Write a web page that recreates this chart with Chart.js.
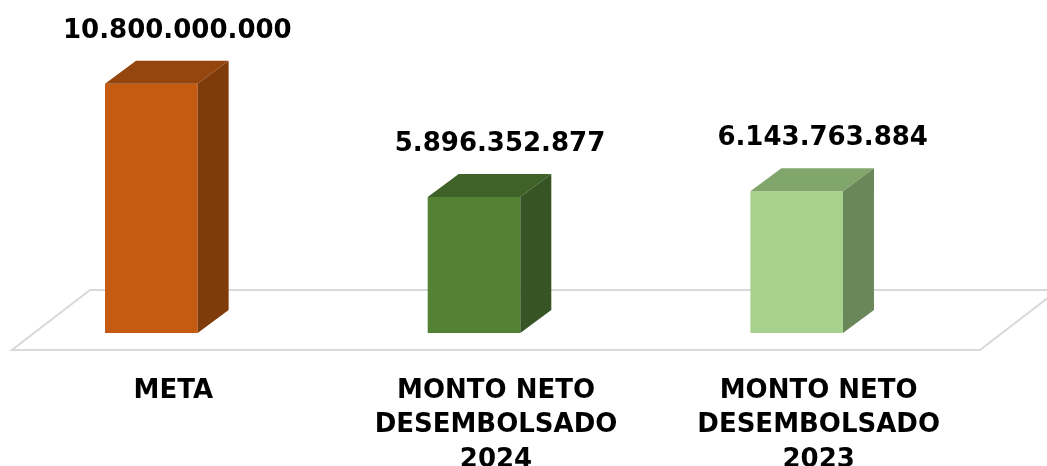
<!DOCTYPE html>
<html>
<head>
<meta charset="utf-8">
<script src="https://cdn.jsdelivr.net/npm/chart.js@4.4.1/dist/chart.umd.min.js"></script>
<style>
  html, body { margin: 0; padding: 0; background: #fff; overflow: hidden; }
  #wrap { position: absolute; left: 0; top: 0; width: 1047px; height: 518px; }
</style>
</head>
<body>
<div id="wrap"><canvas id="chart"></canvas></div>
<script>
// --- data ---
const categories = [
    'META',
    ['MONTO NETO', 'DESEMBOLSADO', '2024'],
    ['MONTO NETO', 'DESEMBOLSADO', '2023']
];
const values = [10800000000, 5896352877, 6143763884];

// front / top / side colours for each bar
const frontColors = ['#C55A11', '#548235', '#A9D18E'];
const topColors = ['#95450E', '#3F6229', '#80A66B'];
const sideColors = ['#803B0B', '#375424', '#6A8759'];

const FONT = "'DejaVu Sans', Verdana, sans-serif";
const DEPTH_X = 31, DEPTH_Y = -23;   // bar depth
const SHIFT_X = -22;                 // front faces sit a bit left of the category

function fmt(v) {
    return String(v).replace(/\B(?=(\d{3})+(?!\d))/g, '.');
}

// 3D bars + floor
const bars3d = {
    id: 'bars3d',
    beforeDatasetsDraw(chart) {
        const ctx = chart.ctx;
        const a = chart.chartArea;
        // floor
        const fy = a.bottom + 17, by = a.bottom - 43, dx = 78;
        ctx.save();
        ctx.strokeStyle = '#d9d9d9';
        ctx.lineWidth = 2;
        ctx.beginPath();
        ctx.moveTo(a.left, fy);
        ctx.lineTo(a.right, fy);
        ctx.lineTo(a.right + dx, by);
        ctx.lineTo(a.left + dx, by);
        ctx.closePath();
        ctx.stroke();
        ctx.restore();

        ctx.save();
        ctx.translate(SHIFT_X, 0);
    },
    afterDatasetsDraw(chart) {
        const ctx = chart.ctx;
        const meta = chart.getDatasetMeta(0);
        meta.data.forEach(function (bar, i) {
            const l = bar.x - bar.width / 2, r = bar.x + bar.width / 2;
            const t = bar.y, b = bar.base;
            // top face
            ctx.fillStyle = topColors[i];
            ctx.beginPath();
            ctx.moveTo(l, t);
            ctx.lineTo(l + DEPTH_X, t + DEPTH_Y);
            ctx.lineTo(r + DEPTH_X, t + DEPTH_Y);
            ctx.lineTo(r, t);
            ctx.closePath();
            ctx.fill();
            // side face
            ctx.fillStyle = sideColors[i];
            ctx.beginPath();
            ctx.moveTo(r, t);
            ctx.lineTo(r + DEPTH_X, t + DEPTH_Y);
            ctx.lineTo(r + DEPTH_X, b + DEPTH_Y);
            ctx.lineTo(r, b);
            ctx.closePath();
            ctx.fill();
        });
        ctx.restore();

        // value labels
        ctx.save();
        ctx.fillStyle = '#000';
        ctx.font = 'bold 26px ' + FONT;
        ctx.textAlign = 'center';
        ctx.textBaseline = 'alphabetic';
        meta.data.forEach(function (bar, i) {
            ctx.fillText(fmt(values[i]), bar.x + SHIFT_X + 26, bar.y - 46);
        });
        ctx.restore();
    }
};

new Chart(document.getElementById('chart'), {
    type: 'bar',
    data: {
        labels: categories,
        datasets: [{
            data: values,
            backgroundColor: frontColors,
            borderWidth: 0,
            barPercentage: 0.287,
            categoryPercentage: 1
        }]
    },
    options: {
        responsive: true,
        maintainAspectRatio: false,
        animation: false,
        layout: { padding: { top: 56, left: 12, right: 67, bottom: 0 } },
        plugins: {
            legend: { display: false },
            tooltip: { enabled: false }
        },
        scales: {
            x: {
                grid: { display: false, drawTicks: false },
                border: { display: false },
                ticks: {
                    color: '#000',
                    padding: 41,
                    maxRotation: 0,
                    autoSkip: false,
                    font: { family: FONT, size: 26, weight: 'bold', lineHeight: 1.32 }
                }
            },
            y: {
                display: false,
                min: 0,
                max: 12000000000
            }
        }
    },
    plugins: [bars3d]
});
</script>
</body>
</html>
